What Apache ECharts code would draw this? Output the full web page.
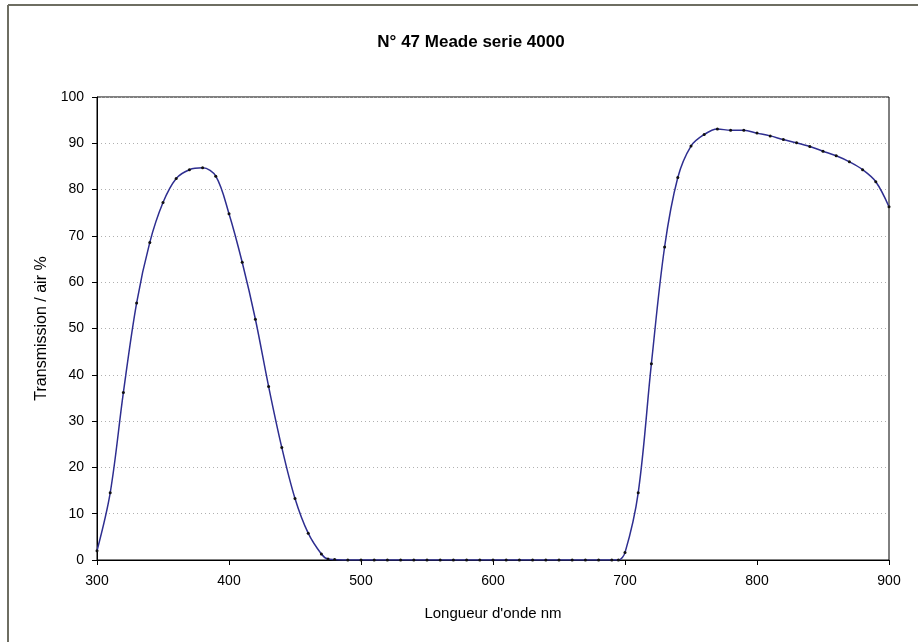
<!DOCTYPE html>
<html>
<head>
<meta charset="utf-8">
<script src="https://cdn.jsdelivr.net/npm/echarts@6/dist/echarts.min.js"></script>
<style>
  html, body { margin: 0; padding: 0; background: #fff; }
  #grafik { width: 918px; height: 642px; }
</style>
</head>
<body>
<div id="grafik"></div>
<script>
var wavelengths = [300, 310, 320, 330, 340, 350, 360, 370, 380, 390,
  400, 410, 420, 430, 440, 450, 460, 470, 475, 480, 490,
  500, 510, 520, 530, 540, 550, 560, 570, 580, 590,
  600, 610, 620, 630, 640, 650, 660, 670, 680, 690, 695,
  700, 710, 720, 730, 740, 750, 760, 770, 780, 790,
  800, 810, 820, 830, 840, 850, 860, 870, 880, 890, 900];
var transmission = [2, 14.5, 36.2, 55.5, 68.6, 77.2, 82.4, 84.3, 84.7, 82.9,
  74.8, 64.3, 52.0, 37.5, 24.3, 13.3, 5.8, 1.3, 0.2, 0.1, 0,
  0, 0, 0, 0, 0, 0, 0, 0, 0, 0,
  0, 0, 0, 0, 0, 0, 0, 0, 0, 0, 0,
  1.6, 14.5, 42.4, 67.6, 82.6, 89.4, 91.9, 93.1, 92.8, 92.8,
  92.2, 91.6, 90.8, 90.1, 89.3, 88.3, 87.3, 86.0, 84.3, 81.7, 76.3];
var xTicks = [300, 400, 500, 600, 700, 800, 900];
var yTicks = [0, 10, 20, 30, 40, 50, 60, 70, 80, 90, 100];

var points = wavelengths.map(function (w, i) { return [w, transmission[i]]; });

var grafik = echarts.init(document.getElementById('grafik'));
var font = 'Liberation Sans, Arial, sans-serif';

var option = {
  backgroundColor: '#fff',
  animation: false,
  title: {
    text: 'N° 47 Meade serie 4000',
    left: 466,
    top: 29,
    textAlign: 'center',
    textStyle: { fontFamily: font, fontSize: 17, fontWeight: 'bold', color: '#000' }
  },
  graphic: [
    { type: 'line', shape: { x1: 8, y1: 5, x2: 8, y2: 642 }, style: { stroke: '#6e6e62', lineWidth: 2 } },
    { type: 'line', shape: { x1: 8, y1: 5, x2: 918, y2: 5 }, style: { stroke: '#6e6e62', lineWidth: 2 } }
  ],
  grid: {
    left: 97, top: 97, right: 29, bottom: 82,
    show: true, borderColor: '#000', borderWidth: 1
  },
  xAxis: {
    type: 'value',
    min: xTicks[0],
    max: xTicks[xTicks.length - 1],
    interval: 100,
    name: "Longueur d'onde nm",
    nameLocation: 'middle',
    nameGap: 46,
    nameTextStyle: { fontFamily: font, fontSize: 15, color: '#000' },
    axisLine: { lineStyle: { color: '#000', width: 1 } },
    axisTick: { show: true, inside: false, length: 5, lineStyle: { color: '#000' } },
    axisLabel: { fontFamily: font, fontSize: 14, color: '#000', margin: 14 },
    splitLine: { show: false }
  },
  yAxis: {
    type: 'value',
    min: yTicks[0],
    max: yTicks[yTicks.length - 1],
    interval: 10,
    name: 'Transmission / air %',
    nameLocation: 'middle',
    nameGap: 44,
    nameTextStyle: { fontFamily: font, fontSize: 16, color: '#000' },
    axisLine: { show: true, lineStyle: { color: '#000', width: 1 } },
    axisTick: { show: true, length: 5, lineStyle: { color: '#000' } },
    axisLabel: { fontFamily: font, fontSize: 14, color: '#000', margin: 13 },
    splitLine: { show: true, lineStyle: { color: '#b0b0b0', type: [1, 3], width: 1 } }
  },
  series: [{
    type: 'line',
    data: points,
    smooth: 0.35,
    symbol: 'circle',
    symbolSize: 3,
    itemStyle: { color: '#111' },
    lineStyle: { color: '#2e2e90', width: 1.5 }
  }]
};
grafik.setOption(option);
</script>
</body>
</html>
